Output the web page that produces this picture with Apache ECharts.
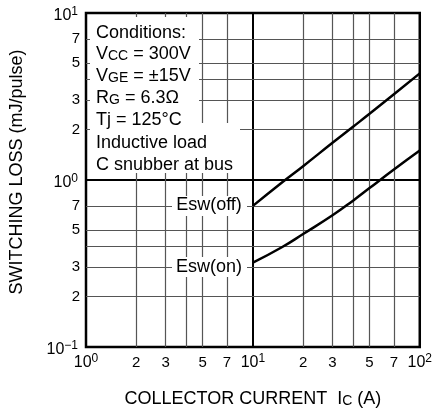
<!DOCTYPE html>
<html>
<head>
<meta charset="utf-8">
<script src="https://cdn.jsdelivr.net/npm/echarts@6/dist/echarts.min.js"></script>
<style>
html,body{margin:0;padding:0;background:#fff;}
#chart{width:435px;height:417px;}
</style>
</head>
<body>
<div id="chart"></div>
<script>
// ---- data ----
const currents = [10, 15, 20, 30, 40, 50, 70, 100];            // Ic (A)
const eswOff   = [0.7, 0.97, 1.21, 1.67, 2.09, 2.49, 3.26, 4.35]; // mJ/pulse
const eswOn    = [0.32, 0.397, 0.475, 0.615, 0.755, 0.895, 1.155, 1.5];
const xMinorGrid = [2, 3, 4, 5, 7, 20, 30, 40, 50, 70];
const yMinorGrid = [0.2, 0.3, 0.4, 0.5, 0.7, 2, 3, 4, 5, 7];
const xMinorLabels = [2, 3, 5, 7, 20, 30, 50, 70];
const yMinorLabels = [0.2, 0.3, 0.5, 0.7, 2, 3, 5, 7];
const conditionLines = [
  '{b|Conditions:}',
  '{b|V}{s|CC}{b| = 300V}',
  '{b|V}{s|GE}{b| = \u00b115V}',
  '{b|R}{s|G}{b| = 6.3\u03a9}',
  '{b|T}{b|j = 125\u00b0C}',
  '{b|Inductive load}',
  '{b|C snubber at bus}'
];

const FONT = 'Liberation Sans, Arial, Helvetica, sans-serif';
const chart = echarts.init(document.getElementById('chart'), null, {renderer: 'canvas'});

function digitLabel(v) {
  const e = Math.floor(Math.log10(v) + 1e-9);
  return String(Math.round(v / Math.pow(10, e)));
}
function powLabel(v) {
  const e = Math.round(Math.log10(v));
  return '{b|10}{s|' + (e < 0 ? '\u2212' + (-e) : e) + '}';
}
const powRich = {
  b: {fontSize: 16, fontFamily: FONT, color: '#000', lineHeight: 18, verticalAlign: 'bottom'},
  s: {fontSize: 12, fontFamily: FONT, color: '#000', lineHeight: 12, verticalAlign: 'top'}
};
const textRich = {
  b: {fontSize: 18, fontFamily: FONT, color: '#000', lineHeight: 22, verticalAlign: 'bottom'},
  s: {fontSize: 14, fontFamily: FONT, color: '#000', lineHeight: 19, verticalAlign: 'bottom'}
};

const minorLine = {color: '#555', width: 1.2, type: 'solid'};
const markData = [];
xMinorGrid.forEach(v => markData.push({
  xAxis: v,
  label: {show: xMinorLabels.indexOf(v) >= 0, position: 'start', distance: 8,
          formatter: () => digitLabel(v), color: '#000', fontSize: 15, fontFamily: FONT}
}));
yMinorGrid.forEach(v => markData.push({
  yAxis: v,
  label: {show: yMinorLabels.indexOf(v) >= 0, position: 'start', distance: 6,
          formatter: () => digitLabel(v), color: '#000', fontSize: 15, fontFamily: FONT}
}));

const condGraphics = [];
const condY = [31, 52.5, 74, 96, 118.5, 141.5, 163.5];
conditionLines.forEach((t, i) => condGraphics.push({
  type: 'text', x: 96, y: condY[i], z: 110,
  style: {text: t, fill: '#000', fontSize: 18, fontFamily: FONT, align: 'left', verticalAlign: 'middle', rich: textRich}
}));

chart.setOption({
  animation: false,
  backgroundColor: '#fff',
  grid: {left: 86, right: 15, top: 13, bottom: 70, show: true, borderColor: '#000', borderWidth: 2.5, backgroundColor: 'transparent'},
  xAxis: {
    type: 'log', logBase: 10, min: 1, max: 100,
    name: '{b|COLLECTOR CURRENT  I}{s|C}{b| (A)}',
    nameLocation: 'middle', nameGap: 39,
    nameTextStyle: {rich: textRich},
    axisLine: {show: false}, axisTick: {show: false},
    axisLabel: {formatter: powLabel, rich: powRich, margin: 6},
    splitLine: {show: true, lineStyle: {color: '#000', width: 2}}
  },
  yAxis: {
    type: 'log', logBase: 10, min: 0.1, max: 10,
    axisLine: {show: false}, axisTick: {show: false},
    axisLabel: {formatter: powLabel, rich: powRich, margin: 8, padding: [4, 0, 0, 0]},
    splitLine: {show: true, lineStyle: {color: '#000', width: 2}}
  },
  series: [
    {
      type: 'line', data: [], silent: true, symbol: 'none',
      markLine: {silent: true, symbol: ['none', 'none'], lineStyle: minorLine, animation: false,
                 emphasis: {disabled: true}, data: markData}
    },
    {
      name: 'Esw(off)', type: 'line', smooth: 0.5, symbol: 'none', z: 5,
      lineStyle: {color: '#000', width: 2.5},
      data: currents.map((c, i) => [c, eswOff[i]])
    },
    {
      name: 'Esw(on)', type: 'line', smooth: 0.5, symbol: 'none', z: 5,
      lineStyle: {color: '#000', width: 2.5},
      data: currents.map((c, i) => [c, eswOn[i]])
    }
  ],
  graphic: [
    {type: 'rect', z: 100, shape: {x: 90, y: 17, width: 109, height: 106}, style: {fill: '#fff'}},
    {type: 'rect', z: 100, shape: {x: 90, y: 123, width: 150, height: 50}, style: {fill: '#fff'}},
    {type: 'rect', z: 100, shape: {x: 172, y: 196, width: 75, height: 20}, style: {fill: '#fff'}},
    {type: 'rect', z: 100, shape: {x: 172, y: 257, width: 75, height: 20}, style: {fill: '#fff'}},
    {type: 'text', z: 110, x: 209, y: 205, style: {text: 'Esw(off)', fill: '#000', fontSize: 18, fontFamily: FONT, align: 'center', verticalAlign: 'middle'}},
    {type: 'text', z: 110, x: 209, y: 267, style: {text: 'Esw(on)', fill: '#000', fontSize: 18, fontFamily: FONT, align: 'center', verticalAlign: 'middle'}},
    {type: 'text', z: 110, x: 17, y: 172, rotation: Math.PI / 2,
     style: {text: 'SWITCHING LOSS (mJ/pulse)', fill: '#000', fontSize: 18, fontFamily: FONT, align: 'center', verticalAlign: 'middle'}}
  ].concat(condGraphics)
});
</script>
</body>
</html>
